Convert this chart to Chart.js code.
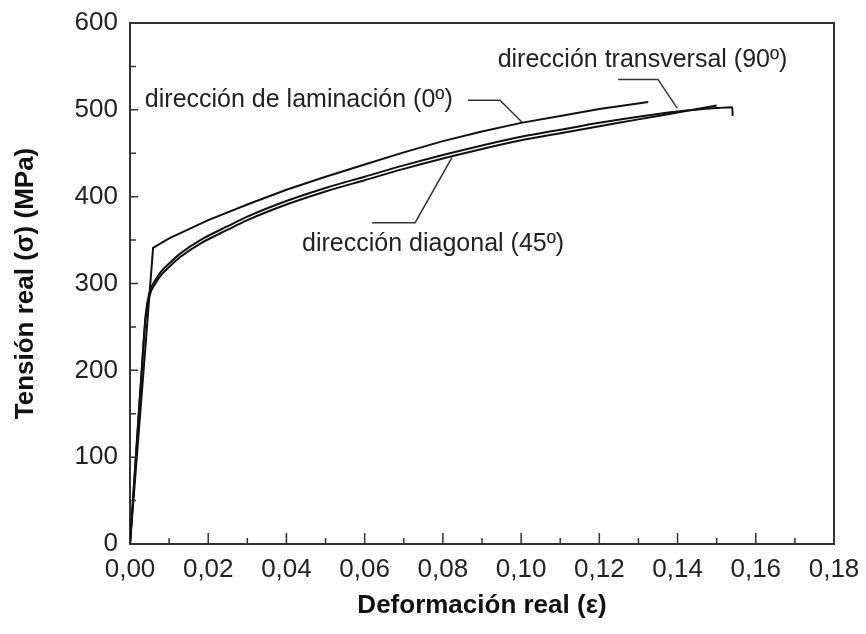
<!DOCTYPE html>
<html>
<head>
<meta charset="utf-8">
<script src="https://cdn.jsdelivr.net/npm/chart.js@4"></script>
<style>
  body { margin: 0; background: #fff; }
  #wrap { width: 866px; height: 634px; }
</style>
</head>
<body>
<div id="wrap"><canvas id="stressChart" width="866" height="634"></canvas></div>
<script>
// Curve data (strain, true stress in MPa)
var strain0 = [0, 0.002, 0.004, 0.0059, 0.01, 0.02, 0.03, 0.04, 0.05, 0.06, 0.07, 0.08, 0.09, 0.10, 0.11, 0.12, 0.1325];
var stress0 = [0, 115, 230, 341, 352, 373, 391, 408, 423, 437, 451, 464, 475, 485, 493, 501, 509];

var strain90 = [0, 0.0015, 0.003, 0.004, 0.005, 0.0065, 0.008, 0.01, 0.013, 0.018, 0.025, 0.03, 0.04, 0.05, 0.06, 0.07, 0.08, 0.09, 0.10, 0.11, 0.12, 0.13, 0.14, 0.15, 0.154, 0.1541];
var stress90 = [0, 100, 200, 264, 290, 304, 314, 323, 335, 350, 366, 377, 395, 410, 423, 436, 448, 459, 469, 477, 485, 492, 498, 502, 503, 493];

var strain45 = [0, 0.0015, 0.003, 0.004, 0.005, 0.0065, 0.008, 0.01, 0.013, 0.018, 0.025, 0.03, 0.04, 0.05, 0.06, 0.07, 0.08, 0.09, 0.10, 0.11, 0.12, 0.13, 0.14, 0.15];
var stress45 = [0, 100, 200, 260, 286, 300, 310, 319, 331, 346, 362, 373, 391, 406, 419, 432, 444, 455, 465, 473, 481, 489, 497, 505];

// Axis ticks
var xTicks = [0, 0.02, 0.04, 0.06, 0.08, 0.10, 0.12, 0.14, 0.16, 0.18];
var yTicks = [0, 100, 200, 300, 400, 500, 600];

// Labels with leader lines (data coordinates)
var labelText = ['dirección de laminación (0º)', 'dirección transversal (90º)', 'dirección diagonal (45º)'];
var labelAt = [[0.0038, 511], [0.094, 557], [0.044, 345]];
var leaders = [
    [[0.0864, 511], [0.0946, 511], [0.1002, 486]],
    [[0.1248, 535], [0.1350, 535], [0.1399, 502]],
    [[0.0619, 370], [0.0729, 370], [0.0823, 445]]
];

function toPoints(xs, ys) {
    return xs.map(function (x, i) { return { x: x, y: ys[i] }; });
}

var fontName = "'Liberation Sans', Arial, sans-serif";

// Frame, inside ticks and the curve labels
var decor = {
    id: 'decor',
    afterDatasetsDraw: function (chart) {
        var ctx = chart.ctx;
        var a = chart.chartArea;
        var xs = chart.scales.x, ys = chart.scales.y;
        ctx.save();
        ctx.strokeStyle = '#333';
        ctx.lineWidth = 2;
        ctx.beginPath();
        ctx.moveTo(a.left, a.top);
        ctx.lineTo(a.right, a.top);
        ctx.lineTo(a.right, a.bottom);
        ctx.stroke();

        ctx.lineWidth = 1.5;
        ctx.beginPath();
        for (var i = 1; i < 18; i++) {
            var px = xs.getPixelForValue(i / 100);
            var len = (i % 2 === 0) ? 11 : 6;
            ctx.moveTo(px, a.bottom);
            ctx.lineTo(px, a.bottom - len);
        }
        for (var j = 1; j < 12; j++) {
            var py = ys.getPixelForValue(j * 50);
            var l = (j % 2 === 0) ? 8 : 6;
            ctx.moveTo(a.left, py);
            ctx.lineTo(a.left + l, py);
        }
        ctx.stroke();

        ctx.strokeStyle = '#333';
        ctx.lineWidth = 1.5;
        leaders.forEach(function (pts) {
            ctx.beginPath();
            pts.forEach(function (p, k) {
                var X = xs.getPixelForValue(p[0]), Y = ys.getPixelForValue(p[1]);
                if (k === 0) ctx.moveTo(X, Y); else ctx.lineTo(X, Y);
            });
            ctx.stroke();
        });

        ctx.fillStyle = '#222';
        ctx.font = '25px ' + fontName;
        ctx.textAlign = 'left';
        ctx.textBaseline = 'middle';
        labelText.forEach(function (t, k) {
            ctx.fillText(t, xs.getPixelForValue(labelAt[k][0]), ys.getPixelForValue(labelAt[k][1]));
        });
        ctx.restore();
    }
};

var lineStyle = {
    borderColor: '#111',
    borderWidth: 2,
    pointRadius: 0,
    fill: false,
    cubicInterpolationMode: 'monotone'
};

var ctxStress = document.getElementById('stressChart').getContext('2d');
var stressChart = new Chart(ctxStress, {
    type: 'line',
    data: {
        datasets: [
            Object.assign({ label: '0º', data: toPoints(strain0, stress0) }, lineStyle, { cubicInterpolationMode: 'default', tension: 0 }),
            Object.assign({ label: '90º', data: toPoints(strain90, stress90) }, lineStyle),
            Object.assign({ label: '45º', data: toPoints(strain45, stress45) }, lineStyle)
        ]
    },
    options: {
        responsive: false,
        animation: false,
        layout: { padding: { top: 23, right: 32, left: 0, bottom: 0 } },
        plugins: {
            legend: { display: false },
            tooltip: { enabled: false }
        },
        scales: {
            x: {
                type: 'linear',
                min: 0,
                max: 0.18,
                afterFit: function (s) { s.height = 90; s.paddingLeft = 0; s.paddingRight = 0; },
                afterBuildTicks: function (s) { s.ticks = xTicks.map(function (v) { return { value: v }; }); },
                grid: { display: false, drawTicks: false },
                border: { display: true, color: '#333', width: 2 },
                ticks: {
                    autoSkip: false,
                    maxRotation: 0,
                    padding: 10,
                    color: '#222',
                    font: { family: fontName, size: 26 },
                    callback: function (v) { return v.toFixed(2).replace('.', ','); }
                },
                title: {
                    display: true,
                    text: 'Deformación real (ε)',
                    color: '#111',
                    padding: { bottom: 13 },
                    font: { family: fontName, size: 26, weight: 'bold' }
                }
            },
            y: {
                min: 0,
                max: 600,
                afterFit: function (s) { s.width = 130; s.paddingTop = 0; s.paddingBottom = 0; },
                afterBuildTicks: function (s) { s.ticks = yTicks.map(function (v) { return { value: v }; }); },
                grid: { display: false, drawTicks: false },
                border: { display: true, color: '#333', width: 2 },
                ticks: {
                    padding: 12,
                    color: '#222',
                    font: { family: fontName, size: 26 }
                },
                title: {
                    display: true,
                    text: 'Tensión real (σ) (MPa)',
                    color: '#111',
                    padding: { top: 10 },
                    font: { family: fontName, size: 26, weight: 'bold' }
                }
            }
        }
    },
    plugins: [decor]
});
</script>
</body>
</html>
